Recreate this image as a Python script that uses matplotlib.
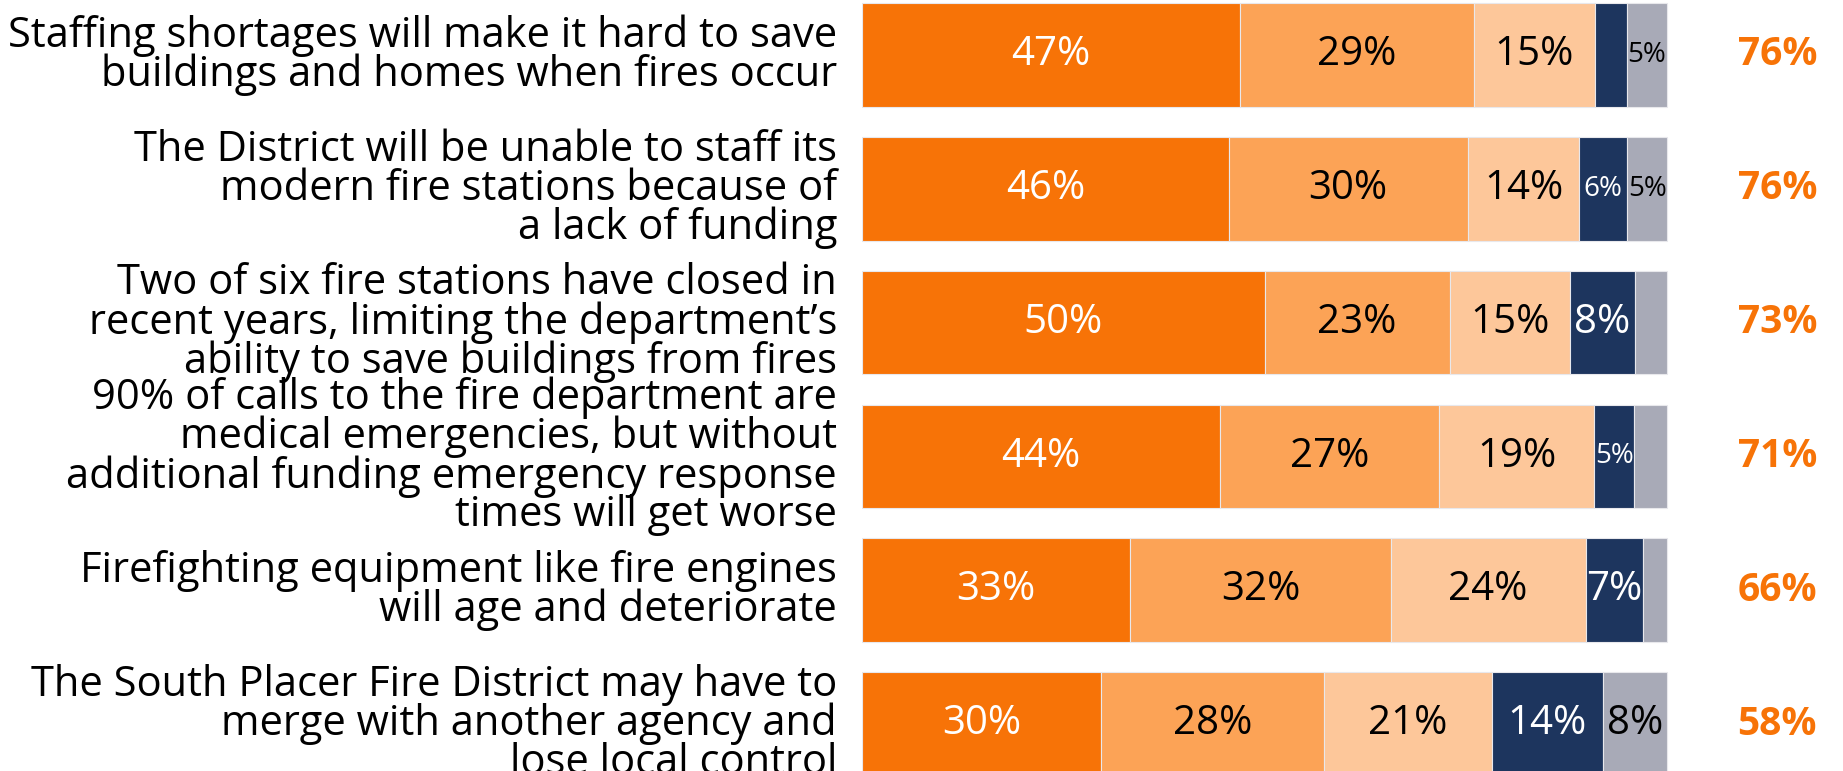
import numpy as np
import matplotlib.pyplot as plt

# survey statements (top to bottom)
statements = [
    "Staffing shortages will make it hard to save\nbuildings and homes when fires occur",
    "The District will be unable to staff its\nmodern fire stations because of\na lack of funding",
    "Two of six fire stations have closed in\nrecent years, limiting the department\u2019s\nability to save buildings from fires",
    "90% of calls to the fire department are\nmedical emergencies, but without\nadditional funding emergency response\ntimes will get worse",
    "Firefighting equipment like fire engines\nwill age and deteriorate",
    "The South Placer Fire District may have to\nmerge with another agency and\nlose local control",
]

# response shares (%)
very_convincing = [47, 46, 50, 44, 33, 30]
somewhat_convincing = [29, 30, 23, 27, 32, 28]
not_too_convincing = [15, 14, 15, 19, 24, 21]
not_convincing = [4, 6, 8, 5, 7, 14]
dont_know = [5, 5, 4, 4, 3, 8]
total_convincing = [76, 76, 73, 71, 66, 58]

series = [very_convincing, somewhat_convincing, not_too_convincing, not_convincing, dont_know]
colors = ['#F77307', '#FCA356', '#FDC79A', '#1D355E', '#A8AAB7']
text_colors = ['white', 'black', 'black', 'white', 'black']

plt.rcParams['font.family'] = ['Open Sans', 'DejaVu Sans']

fig = plt.figure(figsize=(18.43, 7.71), dpi=100)
ax = fig.add_axes([862 / 1843, 0, 981 / 1843, 1])

y = np.arange(len(statements))
# rounded shares don't always add to 100, so scale each row to a full bar
row_sum = np.sum(np.array(series, dtype=float), axis=0)
left = np.zeros(len(statements))
for vals, col, tc in zip(series, colors, text_colors):
    vals = np.array(vals, dtype=float)
    widths = vals / row_sum * 100
    ax.barh(y, widths, left=left, height=0.775, color=col, edgecolor='#E8E8EC', linewidth=0.8)
    for yi, (l, w, v) in enumerate(zip(left, widths, vals)):
        if v < 5:
            continue
        size = 20 if v <= 6 else 29
        ax.text(l + w / 2, yi, f"{int(v)}%", ha='center', va='center', color=tc, fontsize=size)
    left += widths

# totals on the right
for yi, t in enumerate(total_convincing):
    ax.text(113.7, yi, f"{t}%", ha='center', va='center', color='#F77307',
            fontsize=28, fontweight='bold')

# statement labels on the left
for yi, s in enumerate(statements):
    ax.text(-3.1, yi, s, ha='right', va='center', multialignment='right',
            fontsize=30, linespacing=0.9, color='black', clip_on=False)

ax.set_xlim(0, 981 / 8.05)
ax.set_ylim(5.351, -0.411)
ax.axis('off')

fig.savefig('out.png', dpi=100)
